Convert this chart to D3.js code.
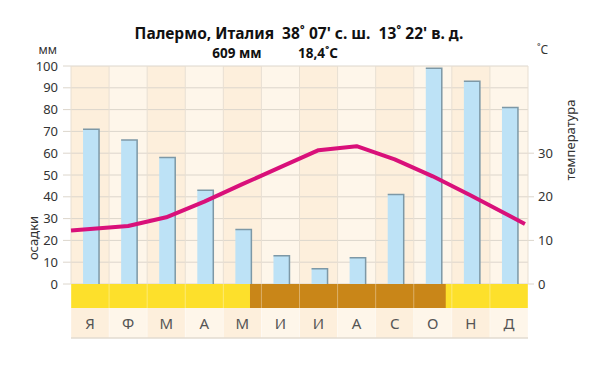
<!DOCTYPE html>
<html>
<head>
<meta charset="utf-8">
<script src="https://d3js.org/d3.v7.min.js"></script>
<style>
  body { margin: 0; background: #fff; }
  svg text { font-family: "Noto Sans", "Open Sans", sans-serif; white-space: pre; }
</style>
</head>
<body>
<svg width="600" height="368"></svg>
<script>
// months, precipitation (mm) and temperature (°C)
var months = ["Я", "Ф", "М", "А", "М", "И", "И", "А", "С", "О", "Н", "Д"];
var precip = [71, 66, 58, 43, 25, 13, 7, 12, 41, 99, 93, 81];
var temps  = [12.6, 13.3, 15.3, 18.9, 22.9, 26.8, 30.7, 31.6, 28.6, 24.7, 20.3, 15.7];
var mmTicks = [0, 10, 20, 30, 40, 50, 60, 70, 80, 90, 100];
var tTicks = [0, 10, 20, 30];
// dry period on the band below zero, in months from the start of January
var dryPeriod = [4.7, 9.84];

var svg = d3.select("svg");
var plotLeft = 71, plotRight = 528, plotTop = 66, zero = 284;

var x = d3.scaleLinear().domain([0, 12]).range([plotLeft, plotRight]);
var yMM = d3.scaleLinear().domain([0, 100]).range([zero, plotTop]);
var yT = d3.scaleLinear().domain([0, 50]).range([zero, plotTop]);
var colW = x(1) - x(0);
var shade = function(d, i) { return i % 2 ? "#fef6ea" : "#fdefdc"; };

// column backgrounds
svg.selectAll("rect.col")
    .data(months)
  .enter().append("rect")
    .attr("x", function(d, i) { return x(i); })
    .attr("y", plotTop)
    .attr("width", colW)
    .attr("height", zero - plotTop)
    .style("fill", shade);

// horizontal grid + ticks
svg.selectAll("line.h")
    .data(mmTicks)
  .enter().append("line")
    .attr("x1", plotLeft - 8).attr("x2", plotRight)
    .attr("y1", function(d) { return yMM(d); })
    .attr("y2", function(d) { return yMM(d); })
    .style("stroke", "#dcd6cc").style("stroke-width", 1);

svg.selectAll("line.rt")
    .data(tTicks)
  .enter().append("line")
    .attr("x1", plotRight).attr("x2", plotRight + 6)
    .attr("y1", function(d) { return yT(d); })
    .attr("y2", function(d) { return yT(d); })
    .style("stroke", "#dcd6cc");

// vertical grid
svg.selectAll("line.v")
    .data(d3.range(13))
  .enter().append("line")
    .attr("x1", function(d) { return x(d); })
    .attr("x2", function(d) { return x(d); })
    .attr("y1", plotTop).attr("y2", zero)
    .style("stroke", "#e8dfd2").style("stroke-width", 1);

// left axis labels
svg.selectAll("text.l")
    .data(mmTicks)
  .enter().append("text")
    .attr("x", 58)
    .attr("y", function(d) { return yMM(d) + 4.5; })
    .attr("text-anchor", "end")
    .style("font-size", "13px").style("fill", "#333")
    .text(function(d) { return d; });

// right axis labels
svg.selectAll("text.r")
    .data(tTicks)
  .enter().append("text")
    .attr("x", 538)
    .attr("y", function(d) { return yT(d) + 4.5; })
    .style("font-size", "13px").style("fill", "#333")
    .text(function(d) { return d; });

// bars
var barW = 16;
svg.selectAll("rect.bar")
    .data(precip)
  .enter().append("rect")
    .attr("x", function(d, i) { return x(i + 0.5) - barW / 2 + 1; })
    .attr("y", function(d) { return yMM(d); })
    .attr("width", barW)
    .attr("height", function(d) { return zero - yMM(d); })
    .style("fill", "#bde2f6");

svg.selectAll("path.barEdge")
    .data(precip)
  .enter().append("path")
    .attr("d", function(d, i) {
      var x0 = x(i + 0.5) - barW / 2 + 1, x1 = x0 + barW;
      return "M" + x0 + "," + yMM(d) + "H" + x1 + "V" + zero;
    })
    .style("fill", "none").style("stroke", "#7d98a6").style("stroke-width", 1.5);

// band below zero: wet (yellow) and dry (brown)
var bandH = 24;
svg.append("rect")
    .attr("x", plotLeft).attr("y", zero)
    .attr("width", plotRight - plotLeft).attr("height", bandH)
    .style("fill", "#fde02b");
svg.append("rect")
    .attr("x", x(dryPeriod[0])).attr("y", zero)
    .attr("width", x(dryPeriod[1]) - x(dryPeriod[0])).attr("height", bandH)
    .style("fill", "#c98618");

// month label row
var rowTop = zero + bandH, rowH = 30;
svg.selectAll("rect.m")
    .data(months)
  .enter().append("rect")
    .attr("x", function(d, i) { return x(i); })
    .attr("y", rowTop)
    .attr("width", colW)
    .attr("height", rowH)
    .style("fill", shade);

svg.selectAll("line.mv")
    .data(d3.range(13))
  .enter().append("line")
    .attr("x1", function(d) { return x(d); })
    .attr("x2", function(d) { return x(d); })
    .attr("y1", zero).attr("y2", rowTop + rowH)
    .style("stroke", "#ffffff").style("stroke-opacity", 0.35);

svg.append("line")
    .attr("x1", plotLeft).attr("x2", plotRight)
    .attr("y1", rowTop + rowH).attr("y2", rowTop + rowH)
    .style("stroke", "#e2dbd0").style("stroke-width", 1.5);

svg.selectAll("text.month")
    .data(months)
  .enter().append("text")
    .attr("x", function(d, i) { return x(i + 0.5); })
    .attr("y", rowTop + 21)
    .attr("text-anchor", "middle")
    .style("font-size", "15px").style("fill", "#555")
    .text(function(d) { return d; });

// temperature line, extended half a month past the first and last points
var pts = temps.map(function(t, i) { return [i + 0.5, t]; });
var n = temps.length;
pts.unshift([0, temps[0] - (temps[1] - temps[0]) / 2]);
pts.push([12 - 0.08, temps[n - 1] + (temps[n - 1] - temps[n - 2]) * 0.42]);

var line = d3.line()
    .x(function(d) { return x(d[0]); })
    .y(function(d) { return yT(d[1]); })
    .curve(d3.curveLinear);

svg.append("path")
    .datum(pts)
    .attr("d", line)
    .style("fill", "none")
    .style("stroke", "#d9107a")
    .style("stroke-width", 4)
    .style("stroke-linejoin", "round");

// titles and axis names
svg.append("text")
    .attr("x", 299).attr("y", 39)
    .attr("text-anchor", "middle")
    .style("font-size", "15.5px").style("font-weight", "bold").style("fill", "#111")
    .text("Палермо, Италия  38˚ 07' с. ш.  13˚ 22' в. д.");

svg.append("text")
    .attr("x", 237).attr("y", 58)
    .attr("text-anchor", "middle")
    .style("font-size", "13.5px").style("font-weight", "bold").style("fill", "#111")
    .text("609 мм");

svg.append("text")
    .attr("x", 318).attr("y", 58)
    .attr("text-anchor", "middle")
    .style("font-size", "13.5px").style("font-weight", "bold").style("fill", "#111")
    .text("18,4˚C");

svg.append("text")
    .attr("x", 57).attr("y", 54)
    .attr("text-anchor", "end")
    .style("font-size", "12px").style("fill", "#333")
    .text("мм");

svg.append("text")
    .attr("x", 537).attr("y", 54)
    .style("font-size", "12px").style("fill", "#333")
    .text("˚C");

svg.append("text")
    .attr("transform", "translate(38,238) rotate(-90)")
    .attr("text-anchor", "middle")
    .style("font-size", "13px").style("fill", "#333")
    .text("осадки");

svg.append("text")
    .attr("transform", "translate(575,140) rotate(-90)")
    .attr("text-anchor", "middle")
    .style("font-size", "13px").style("fill", "#333")
    .text("температура");
</script>
</body>
</html>
